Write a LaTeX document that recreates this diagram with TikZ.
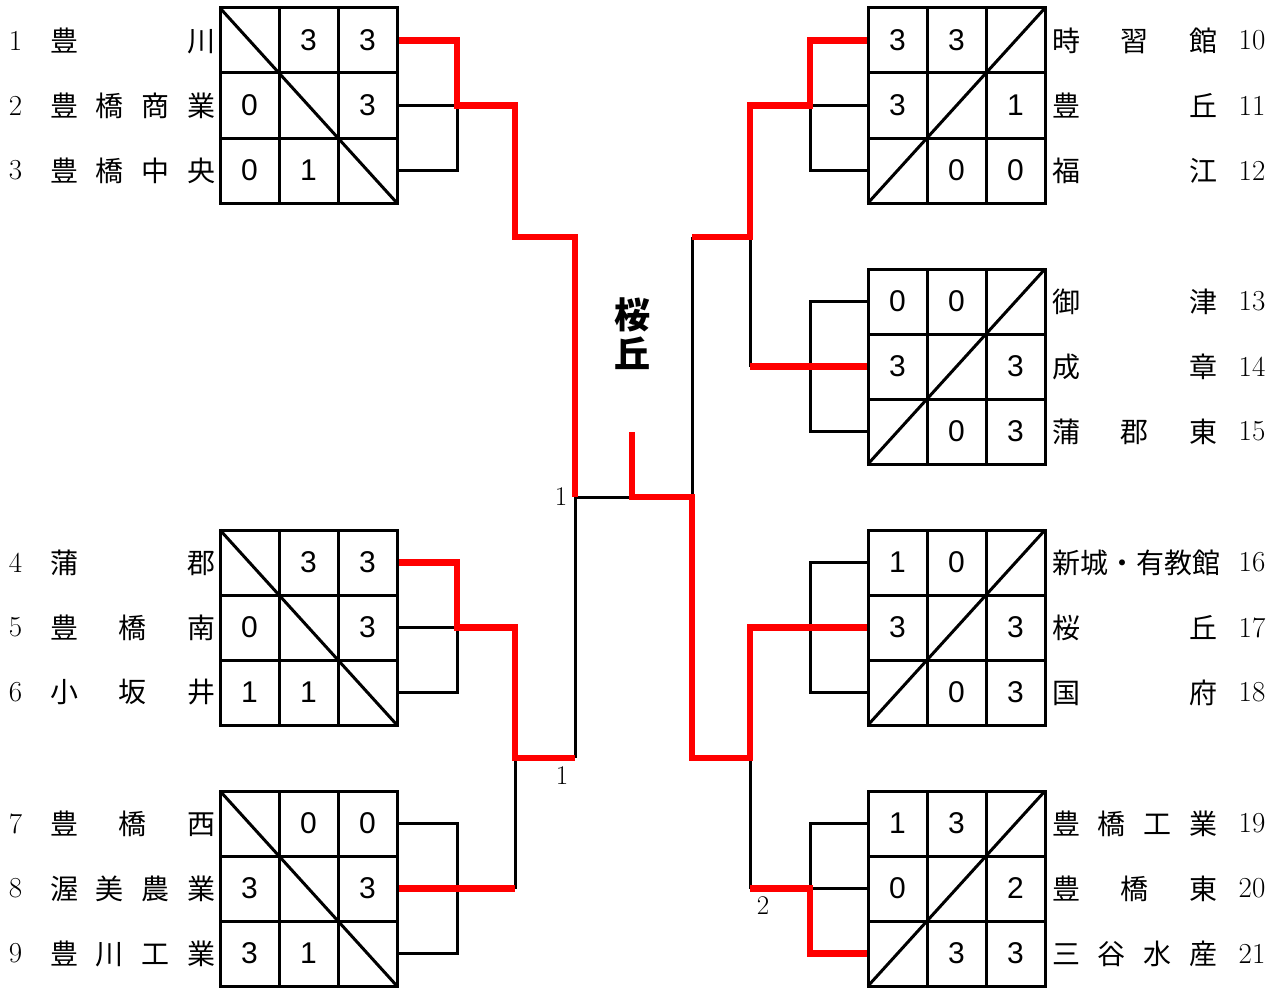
\documentclass[tikz,border=0pt]{standalone}
\usepackage{fontspec}
\newfontfamily\jp{Noto Sans CJK JP}
\newfontfamily\digit{Liberation Sans}
\newcommand{\spread}[1]{\makebox[165pt][s]{#1}}
\tikzset{
  box/.style={line width=3pt},
  lose/.style={line width=3pt},
  win/.style={red, line width=6.5pt},
  score/.style={font=\digit\fontsize{30}{30}\selectfont},
  team/.style={anchor=west, inner sep=0pt, font=\jp\fontsize{28}{30}\selectfont},
  num/.style={font=\fontsize{29}{30}\selectfont},
  lbl/.style={font=\fontsize{27}{28}\selectfont},
}
\begin{document}
\begin{tikzpicture}[x=1pt, y=-1pt]
\useasboundingbox (0,0) rectangle (1282,990);

% teams, left side
\foreach \i/\y/\school in {1/40.5/{豊\hfill 川}, 2/105.5/{豊\hfill 橋\hfill 商\hfill 業},
    3/170.5/{豊\hfill 橋\hfill 中\hfill 央}, 4/562.5/{蒲\hfill 郡}, 5/627.5/{豊\hfill 橋\hfill 南},
    6/692.5/{小\hfill 坂\hfill 井}, 7/823.5/{豊\hfill 橋\hfill 西}, 8/888.5/{渥\hfill 美\hfill 農\hfill 業},
    9/953.5/{豊\hfill 川\hfill 工\hfill 業}}
{
  \node[num] at (15.5,\y) {\i};
  \node[team] (n\i) at (50,\y) {\spread{\school}};
  \coordinate (p\i) at (397,\y);
}
% teams, right side
\foreach \i/\y/\school in {10/40.5/{時\hfill 習\hfill 館}, 11/105.5/{豊\hfill 丘}, 12/170.5/{福\hfill 江},
    13/301.5/{御\hfill 津}, 14/366.5/{成\hfill 章}, 15/431.5/{蒲\hfill 郡\hfill 東},
    16/562.5/{新城・有教館}, 17/627.5/{桜\hfill 丘}, 18/692.5/{国\hfill 府},
    19/823.5/{豊\hfill 橋\hfill 工\hfill 業}, 20/888.5/{豊\hfill 橋\hfill 東}, 21/953.5/{三\hfill 谷\hfill 水\hfill 産}}
{
  \node[num] at (1252,\y) {\i};
  \node[team] (n\i) at (1052,\y) {\spread{\school}};
  \coordinate (p\i) at (868,\y);
}

% bracket joints
\coordinate (j1) at (457,105.5);
\coordinate (j2) at (457,627.5);
\coordinate (j3) at (457,888.5);
\coordinate (ja) at (810,105.5);
\coordinate (jb) at (810,366.5);
\coordinate (jc) at (810,627.5);
\coordinate (jd) at (810,888.5);
\coordinate (L1) at (515,105.5);
\coordinate (L2) at (515,627.5);
\coordinate (L3) at (515,888.5);
\coordinate (Lm) at (515,758);
\coordinate (Ltop) at (575,237);
\coordinate (Lbot) at (575,758);
\coordinate (Lc) at (575,497);
\coordinate (R1) at (750,105.5);
\coordinate (R2) at (750,366.5);
\coordinate (Rm1) at (750,237);
\coordinate (R3) at (750,627.5);
\coordinate (R4) at (750,888.5);
\coordinate (Rm2) at (750,758);
\coordinate (Rtop) at (692,237);
\coordinate (Rbot) at (692,758);
\coordinate (Rc) at (692,497);
\coordinate (C) at (632,497);
\coordinate (W) at (632,432);

% losing lines
\draw[lose] (p2) -- (j1) (p3) -| (j1);
\draw[lose] (p5) -- (j2) (p6) -| (j2);
\draw[lose] (p7) -| (j3) |- (p9);
\draw[lose] (L3) -- (Lm);
\draw[lose] (Lc) -- (Lbot) (Lc) -- (C);
\draw[lose] (p11) -- (ja) (p12) -| (ja);
\draw[lose] (p13) -| (jb) |- (p15);
\draw[lose] (R2) -- (Rm1);
\draw[lose] (Rtop) -- (Rc);
\draw[lose] (p16) -| (jc) |- (p18);
\draw[lose] (p19) -| (jd) -- (p20);
\draw[lose] (R4) -- (Rm2);

% winning lines
\draw[win] (p1) -| (j1) -- (L1) |- (Ltop) -- (Lc);
\draw[win] (p4) -| (j2) -- (L2) -- (Lm) -- (Lbot);
\draw[win] (p8) -- (L3);
\draw[win] (p10) -| (ja) -- (R1) |- (Rtop);
\draw[win] (p14) -- (R2);
\draw[win] (p21) -| (jd) -- (R4);
\draw[win] (p17) -- (R3) -- (Rm2) -- (Rbot) -- (Rc) -- (C) -- (W);

\node[lbl] (g1) at (561,497) {1};
\node[lbl] (g2) at (562,776) {1};
\node[lbl] (g3) at (763,906) {2};
\node[font=\jp\bfseries\fontsize{36}{39}\selectfont, align=center] (champ) at (632,334) {桜\\丘};

% league grids
\foreach \gy in {8,530,791}{
  \draw[box] (220,\gy) rectangle ++(177,195);
  \draw[box] (279,\gy) -- ++(0,195) (338,\gy) -- ++(0,195)
             (220,\gy+65) -- ++(177,0) (220,\gy+130) -- ++(177,0);
  \draw[box] (220,\gy) -- ++(177,195);
}
\foreach \gy in {8,269,530,791}{
  \draw[box] (868,\gy) rectangle ++(177,195);
  \draw[box] (927,\gy) -- ++(0,195) (986,\gy) -- ++(0,195)
             (868,\gy+65) -- ++(177,0) (868,\gy+130) -- ++(177,0);
  \draw[box] (868,\gy+195) -- ++(177,-195);
}

% scores
\foreach \v [count=\k from 0] in {{},3,3,0,{},3,0,1,{}}
  \node[score] at ({249.5+59*mod(\k,3)},{40.5+65*int(\k/3)}) {\v};
\foreach \v [count=\k from 0] in {{},3,3,0,{},3,1,1,{}}
  \node[score] at ({249.5+59*mod(\k,3)},{562.5+65*int(\k/3)}) {\v};
\foreach \v [count=\k from 0] in {{},0,0,3,{},3,3,1,{}}
  \node[score] at ({249.5+59*mod(\k,3)},{823.5+65*int(\k/3)}) {\v};
\foreach \v [count=\k from 0] in {3,3,{},3,{},1,{},0,0}
  \node[score] at ({897.5+59*mod(\k,3)},{40.5+65*int(\k/3)}) {\v};
\foreach \v [count=\k from 0] in {0,0,{},3,{},3,{},0,3}
  \node[score] at ({897.5+59*mod(\k,3)},{301.5+65*int(\k/3)}) {\v};
\foreach \v [count=\k from 0] in {1,0,{},3,{},3,{},0,3}
  \node[score] at ({897.5+59*mod(\k,3)},{562.5+65*int(\k/3)}) {\v};
\foreach \v [count=\k from 0] in {1,3,{},0,{},2,{},3,3}
  \node[score] at ({897.5+59*mod(\k,3)},{823.5+65*int(\k/3)}) {\v};
\end{tikzpicture}
\end{document}
